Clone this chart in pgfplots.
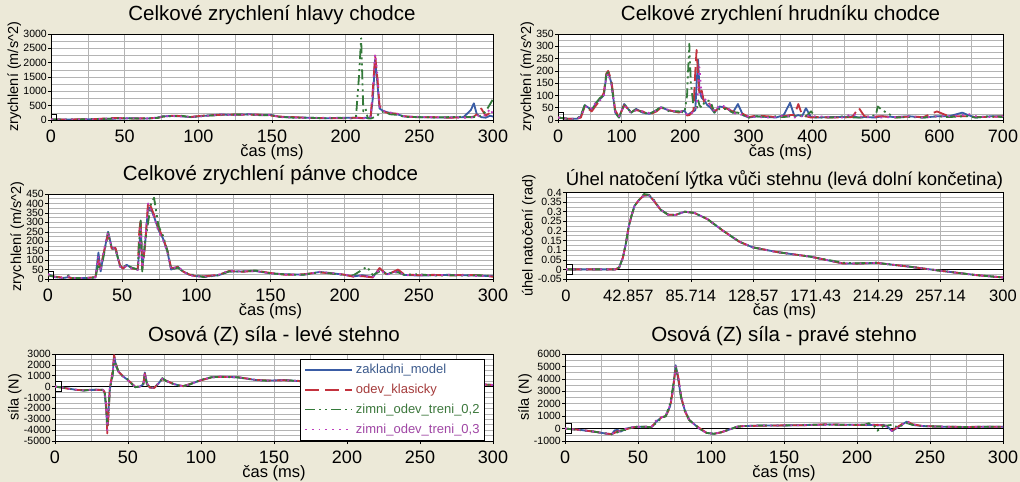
\documentclass[border=0pt]{standalone}
\usepackage{fontspec}
\setmainfont{Liberation Sans}
\usepackage{pgfplots}
\usepackage{pgfplotstable}
\pgfplotsset{compat=1.18}

\definecolor{bgc}{RGB}{236,233,216}
\definecolor{cA}{RGB}{58,92,165}
\definecolor{cB}{RGB}{195,50,62}
\definecolor{cC}{RGB}{52,122,58}
\definecolor{cD}{RGB}{190,60,190}
\definecolor{tA}{RGB}{60,90,140}
\definecolor{tB}{RGB}{165,60,60}
\definecolor{tC}{RGB}{60,120,60}
\definecolor{tD}{RGB}{160,70,165}
\definecolor{gridc}{RGB}{180,180,180}
\newcommand{\fs}[1]{\fontsize{#1}{#1}\selectfont}

\pgfplotsset{
 panel/.style={
  scale only axis, anchor=south west,
  axis background/.style={fill=white},
  xmin=0, xmax=300,
  grid=both,
  major grid style={gridc, line width=0.5bp},
  minor grid style={gridc, line width=0.5bp},
  minor x tick num=1, minor y tick num=1,
  minor tick length=0pt, major tick length=3bp,
  tick align=outside, xtick pos=bottom, ytick pos=left,
  tick style={black, line width=0.5bp},
  axis line style={black, line width=0.7bp},
  scaled ticks=false,
  every axis title shift=0pt,
  /pgf/number format/.cd, 1000 sep={}, assume math mode=true, /pgfplots/.cd,
  xticklabel style={font=\fs{18bp}, anchor=base, yshift=-19.5bp, inner sep=0pt, text depth=0pt},
  yticklabel style={font=\fs{10.5bp}, inner sep=1bp},
  xlabel={čas (ms)},
  xlabel style={font=\fs{16.5bp}, at={(axis description cs:0.5,0)}, anchor=base, yshift=-36.5bp, inner sep=0pt, text height=11.5bp},
  ylabel style={font=\fs{14.5bp}, inner sep=1bp},
  title style={font=\fs{20.5bp}, at={(axis description cs:0.5,1)}, anchor=base, inner sep=0pt},
  clip=true,
  no markers,
  every axis plot/.append style={line width=1.8bp, line join=round},
 },
 sA/.style={cA, solid},
 sB/.style={cB, dash pattern=on 14bp off 6bp},
 sC/.style={cC, dash pattern=on 10bp off 4bp on 2bp off 4bp on 2bp off 4bp},
 sD/.style={cD, dash pattern=on 1.8bp off 5bp},
}

% head acceleration
\pgfplotstableread{
t a b c d
0 20 20 20 20
10 15 15 15 15
20 20 25 20 20
30 30 30 35 30
38 40 60 40 50
45 50 70 60 55
55 60 50 55 60
65 50 60 50 55
72 80 70 70 80
76 130 120 120 130
82 140 150 130 140
88 130 140 150 120
95 100 110 100 110
105 150 160 150 140
115 190 180 170 190
125 180 190 190 170
135 200 180 190 200
140 180 190 170 180
150 170 150 160 170
155 110 120 110 100
165 90 100 80 90
175 80 70 80 70
185 60 70 60 80
195 70 60 80 70
203 80 70 50 60
207 80 80 100 70
209 70 80 1500 80
210.5 60 70 2850 70
212 70 60 300 60
213.5 80 70 400 80
215 60 80 60 70
217 100 150 50 120
218.5 800 1100 80 1000
220 2100 2250 100 2300
221.5 1300 1500 150 1600
223 400 500 250 450
226 300 280 300 320
230 250 230 200 260
235 200 220 180 210
240 120 130 110 120
250 100 90 100 110
260 90 100 90 100
270 90 80 100 90
280 100 90 110 80
285 350 100 100 90
287 580 120 100 100
289 200 200 120 110
292 100 400 150 200
295 80 150 300 150
298 150 250 550 400
300 120 350 730 200
}\tabA

% thorax acceleration
\pgfplotstableread{
t a b c d
0 10 10 10 10
15 5 5 5 5
30 5 5 5 5
36 15 10 20 15
42 60 55 60 50
48 50 45 50 60
53 40 35 40 45
60 70 60 70 75
66 85 80 90 80
72 100 110 100 95
76 180 190 185 175
79 195 200 195 190
84 150 160 150 145
90 30 40 30 35
96 10 12 10 15
104 65 60 65 60
115 30 35 30 28
123 45 40 45 40
133 30 35 30 35
144 25 22 25 28
155 40 35 40 38
162 52 50 55 50
175 38 40 35 40
190 32 30 35 33
199 38 40 30 35
203 20 18 100 20
206.5 25 20 310 25
209 30 25 150 28
213 35 40 60 30
216 40 200 50 45
218 150 285 40 60
220.5 245 180 80 120
222.5 120 100 60 215
226 90 120 50 100
230 80 70 70 90
235 60 75 80 70
240 50 60 75 60
246 30 35 30 35
254 55 50 45 60
264 50 48 45 55
275 30 35 30 32
283 65 25 30 20
291 20 25 20 22
300 10 12 10 14
312 15 18 15 12
330 12 15 12 10
343 10 12 15 12
355 20 15 12 18
365 70 20 15 15
372 15 20 15 10
378 20 65 15 15
384 15 20 20 15
390 48 15 15 20
398 12 10 35 15
406 10 12 10 15
430 12 10 10 12
448 12 10 15 10
463 15 12 10 25
473 10 50 10 15
482 12 15 10 12
500 10 12 20 15
503 12 15 55 12
510 15 15 40 10
530 12 10 10 12
553 15 14 12 15
575 10 12 10 10
596 15 35 15 15
615 15 15 12 15
636 30 15 15 20
645 20 15 15 25
657 10 12 10 15
680 15 12 15 12
700 15 15 12 15
}\tabB

% pelvis acceleration
\pgfplotstableread{
t a b c d
0 25 20 20 25
5 10 12 10 10
10 5 8 5 6
14 10 8 20 15
16 5 5 5 5
25 5 5 5 5
32 8 10 8 10
34 140 100 80 120
35.5 40 60 50 40
37 110 120 100 125
40.5 250 240 245 250
43 165 160 160 165
45.5 160 165 160 160
48.5 70 75 70 65
50.5 55 55 60 55
53 75 72 75 70
56.5 58 55 60 56
60.5 50 52 50 48
61.5 150 250 200 120
62.5 300 320 310 280
63.5 55 50 40 60
65.5 190 180 200 200
67.5 380 410 300 400
69.5 370 380 400 360
71.5 330 340 430 330
74.5 260 270 280 250
77.5 215 220 230 210
80.5 145 150 150 140
83 50 60 55 50
85.5 58 60 55 60
87.5 65 65 60 65
91 40 40 40 42
95 23 25 25 20
100 15 14 20 15
105 12 14 10 12
115 20 22 20 23
122 40 42 40 44
131 40 38 40 40
140 42 44 45 42
150 30 32 30 30
160 25 22 24 23
172 23 25 22 22
183 37 35 36 38
190 32 30 30 32
199 23 24 22 25
206 14 12 20 14
212 20 15 50 18
215 15 12 65 14
219 10 8 20 10
223.5 55 58 40 50
228.5 25 22 30 23
236 45 50 35 40
240 22 25 22 20
250 18 20 25 22
260 20 22 18 20
270 22 18 20 22
280 20 22 18 20
290 18 20 20 16
300 15 12 15 15
}\tabC

% knee angle
\pgfplotstableread{
t a b c d
0 0 0 0 0
20 0 0 0 0
34 0 0 0 0
36.5 0.01 0.01 0.01 0.01
39 0.06 0.06 0.06 0.06
41 0.13 0.13 0.13 0.13
43 0.22 0.22 0.22 0.22
45 0.28 0.28 0.28 0.28
47 0.33 0.33 0.33 0.33
50 0.36 0.36 0.36 0.36
53.5 0.385 0.385 0.392 0.385
57 0.385 0.385 0.388 0.385
60 0.36 0.36 0.365 0.36
65 0.31 0.31 0.31 0.31
70 0.285 0.285 0.285 0.285
75 0.283 0.283 0.283 0.283
81.5 0.30 0.30 0.30 0.30
88 0.294 0.294 0.294 0.294
97 0.262 0.262 0.262 0.262
108 0.20 0.20 0.20 0.20
119 0.144 0.144 0.144 0.144
128 0.115 0.115 0.115 0.115
145 0.09 0.09 0.09 0.09
168 0.066 0.066 0.066 0.066
190 0.031 0.031 0.035 0.031
200 0.030 0.030 0.032 0.030
213 0.034 0.034 0.034 0.034
236 0.014 0.014 0.014 0.014
259 -0.009 -0.009 -0.009 -0.009
282 -0.030 -0.030 -0.030 -0.030
300 -0.042 -0.042 -0.042 -0.042
}\tabD

% left thigh force
\pgfplotstableread{
t a b c d
0 0 0 0 0
5 -80 -100 -80 -90
10 -200 -220 -200 -210
15 -300 -300 -320 -300
20 -350 -330 -350 -340
25 -300 -300 -280 -300
30 -300 -300 -300 -300
33 -300 -320 -300 -300
34 -600 -500 -400 -700
35 -2000 -1500 -1800 -1600
35.8 -3700 -4300 -3500 -4000
36.5 -2500 -3000 -2800 -2600
37.5 -300 -200 -400 -100
38.5 500 600 400 550
39.5 1200 1500 1000 1300
40.5 2800 2900 2600 2700
42 1800 2000 1900 1700
43.5 1400 1350 1400 1400
46 1000 1050 1000 1000
50 600 600 650 600
53 200 250 200 220
55 -50 -30 -50 -40
58 0 20 10 0
60.5 200 150 300 200
61.5 1300 1200 1100 1250
63 300 250 200 300
65 -100 -80 -100 -100
68 -100 -120 -80 -100
71 300 280 300 320
73.5 750 700 780 720
76 550 550 520 550
80 300 320 300 300
85 100 120 100 80
88 50 40 60 50
92 200 220 180 200
100 600 580 620 600
107 850 840 860 850
113 910 900 900 920
125 860 870 850 860
138 600 620 600 610
146 550 560 540 550
157 600 580 600 600
168 500 520 500 510
180 450 460 450 450
200 350 340 360 350
220 300 310 290 300
240 250 260 250 240
260 250 240 250 250
280 200 210 200 200
293 200 200 200 210
300 150 150 150 150
}\tabE

% right thigh force
\pgfplotstableread{
t a b c d
0 0 0 0 0
10 -100 -100 -120 -100
20 -250 -250 -250 -250
28 -400 -400 -400 -400
32 -450 -450 -450 -450
34 -150 -350 -400 -300
36 -100 -200 -300 -250
38 -250 -150 -150 -200
42 0 -50 -100 0
46 100 80 100 90
50 150 150 150 150
55 150 150 150 150
59 100 100 100 100
60.5 250 300 250 400
62 500 450 400 600
66 900 900 850 900
69 1000 1000 1000 1050
72 1800 1700 2000 1900
74 3200 3200 3400 3000
75.8 5100 4900 5000 5000
77.5 4000 4200 4100 4300
79.5 2500 2600 2500 2700
82 1500 1400 1500 1500
85 700 700 700 750
88 400 400 400 400
92 0 50 0 0
97 -350 -350 -350 -350
102 -420 -420 -420 -420
107 -300 -300 -300 -300
112 -100 -100 -100 -100
118 150 150 150 150
122 200 200 200 200
135 250 230 250 240
150 250 260 250 260
165 280 270 300 280
180 330 350 320 300
195 300 280 300 300
205 300 300 300 300
208 280 250 430 300
212 300 280 200 300
214 250 300 -170 280
218 300 250 200 300
221 150 200 250 100
224 -200 -150 300 -200
228 100 150 100 100
234 550 600 450 550
238 300 350 300 350
245 200 200 200 200
260 150 150 150 150
275 120 130 120 130
290 150 150 150 150
300 150 150 150 150
}\tabF

\begin{document}
\begin{tikzpicture}
\fill[bgc] (0,0) rectangle (1020bp,482bp);

% Panel 1
\begin{axis}[panel, at={(51bp,362bp)}, width=442bp, height=86bp,
  ymin=0, ymax=3000, xtick={0,50,...,300}, ytick={0,500,...,3000},
  title={Celkové zrychlení hlavy chodce}, title style={yshift=13.3bp},
  ylabel={zrychlení (m/s\textasciicircum 2)}]
\addplot[sA] table[x=t,y=a]{\tabA};
\addplot[sB] table[x=t,y=b]{\tabA};
\addplot[sC] table[x=t,y=c]{\tabA};
\addplot[sD] table[x=t,y=d]{\tabA};
\draw[black, line width=0.7bp] ([xshift=-1bp]axis cs:0,0) rectangle ([xshift=5bp,yshift=6bp]axis cs:0,0);
\end{axis}

% Panel 2
\begin{axis}[panel, at={(558bp,362bp)}, width=445bp, height=86bp,
  xmax=700, ymin=0, ymax=350, xtick={0,100,...,700}, ytick={0,50,...,350},
  title={Celkové zrychlení hrudníku chodce}, title style={yshift=13.6bp},
  ylabel={zrychlení (m/s\textasciicircum 2)}]
\addplot[sA] table[x=t,y=a]{\tabB};
\addplot[sB] table[x=t,y=b]{\tabB};
\addplot[sC] table[x=t,y=c]{\tabB};
\addplot[sD] table[x=t,y=d]{\tabB};
\draw[black, line width=0.7bp] ([xshift=-1bp]axis cs:0,0) rectangle ([xshift=5bp,yshift=8bp]axis cs:0,0);
\end{axis}

% Panel 3
\begin{axis}[panel, at={(48bp,203bp)}, width=445bp, height=85bp,
  ymin=0, ymax=450, xtick={0,50,...,300}, ytick={0,50,...,450},
  title={Celkové zrychlení pánve chodce}, title style={yshift=13.6bp},
  ylabel={zrychlení (m/s\textasciicircum 2)}]
\addplot[sA] table[x=t,y=a]{\tabC};
\addplot[sB] table[x=t,y=b]{\tabC};
\addplot[sC] table[x=t,y=c]{\tabC};
\addplot[sD] table[x=t,y=d]{\tabC};
\draw[black, line width=0.7bp] ([xshift=-1bp]axis cs:0,0) rectangle ([xshift=5bp,yshift=8bp]axis cs:0,0);
\end{axis}

% Panel 4
\begin{axis}[panel, at={(566bp,203bp)}, width=437bp, height=86.5bp,
  ymin=-0.05, ymax=0.4,
  xtick={0,42.857,85.714,128.571,171.429,214.286,257.143,300},
  xticklabels={0,42.857,85.714,128.57,171.43,214.29,257.14,300},
  xticklabel style={font=\fs{16.5bp}},
  ytick={-0.05,0,0.05,0.1,0.15,0.2,0.25,0.3,0.35,0.4},
  yticklabels={-0.05,0,0.05,0.1,0.15,0.2,0.25,0.3,0.35,0.4},
  title={Úhel natočení lýtka vůči stehnu (levá dolní končetina)},
  title style={yshift=6.8bp, font=\fs{18.5bp}},
  ylabel={úhel natočení (rad)}]
\addplot[black, line width=0.8bp, solid] coordinates {(0,0) (300,0)};
\addplot[sA] table[x=t,y=a]{\tabD};
\addplot[sB] table[x=t,y=b]{\tabD};
\addplot[sC] table[x=t,y=c]{\tabD};
\addplot[sD] table[x=t,y=d]{\tabD};
\draw[black, line width=0.7bp] ([xshift=-1bp,yshift=-5bp]axis cs:0,0) rectangle ([xshift=6bp,yshift=5bp]axis cs:0,0);
\end{axis}

% Panel 5
\begin{axis}[panel, at={(55bp,41bp)}, width=438bp, height=87bp,
  ymin=-5000, ymax=3000, xtick={0,50,...,300}, ytick={-5000,-4000,...,3000},
  title={Osová (Z) síla - levé stehno}, title style={yshift=12.6bp},
  ylabel={síla (N)},
  legend style={at={(axis description cs:0.559,0.943)}, anchor=north west,
    draw=black, line width=0.7bp, fill=white, font=\fs{13bp},
    inner xsep=4bp, inner ysep=4bp, row sep=7bp, column sep=2bp,
    cells={anchor=west}, nodes={inner sep=1bp}},
  legend image code/.code={\draw[#1, line width=1.8bp] (0bp,0bp) -- (47bp,0bp);}]
\addplot[black, line width=0.8bp, solid, forget plot] coordinates {(0,0) (300,0)};
\addplot[sA] table[x=t,y=a]{\tabE};
\addlegendentry{\textcolor{tA}{zakladni\_model}}
\addplot[sB] table[x=t,y=b]{\tabE};
\addlegendentry{\textcolor{tB}{odev\_klasicky}}
\addplot[sC] table[x=t,y=c]{\tabE};
\addlegendentry{\textcolor{tC}{zimni\_odev\_treni\_0,2}}
\addplot[sD] table[x=t,y=d]{\tabE};
\addlegendentry{\textcolor{tD}{zimni\_odev\_treni\_0,3}}
\draw[black, line width=0.7bp] ([xshift=-1bp,yshift=-5bp]axis cs:0,0) rectangle ([xshift=6bp,yshift=5bp]axis cs:0,0);
\end{axis}

% Panel 6
\begin{axis}[panel, at={(565bp,41bp)}, width=438bp, height=87bp,
  ymin=-1000, ymax=6000, xtick={0,50,...,300}, ytick={-1000,0,...,6000},
  title={Osová (Z) síla - pravé stehno}, title style={yshift=12.6bp},
  ylabel={síla (N)}]
\addplot[black, line width=0.8bp, solid] coordinates {(0,0) (300,0)};
\addplot[sA] table[x=t,y=a]{\tabF};
\addplot[sB] table[x=t,y=b]{\tabF};
\addplot[sC] table[x=t,y=c]{\tabF};
\addplot[sD] table[x=t,y=d]{\tabF};
\draw[black, line width=0.7bp] ([xshift=-1bp,yshift=-5bp]axis cs:0,0) rectangle ([xshift=6bp,yshift=5bp]axis cs:0,0);
\end{axis}

\pgfresetboundingbox
\path[use as bounding box] (0,0) rectangle (1020bp,482bp);
\end{tikzpicture}
\end{document}
